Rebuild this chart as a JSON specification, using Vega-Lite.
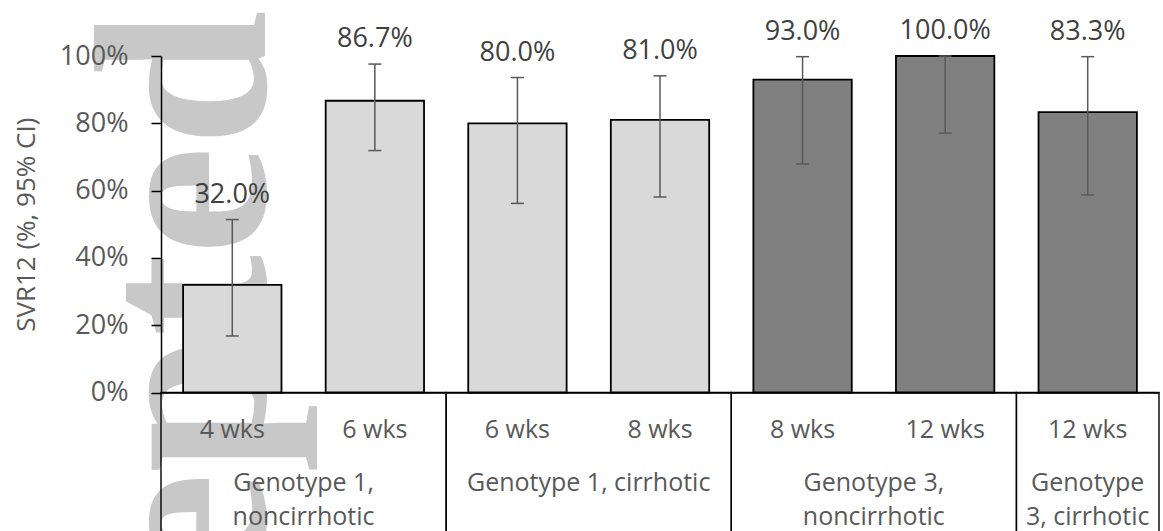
{
  "$schema": "https://vega.github.io/schema/vega-lite/v6.json",
  "width": 998,
  "height": 336.5,
  "autosize": "none",
  "padding": {"left": 161, "top": 56, "right": 4, "bottom": 138.5},
  "background": "white",
  "config": {"view": {"stroke": null}, "font": "Open Sans"},
  "datasets": {
    "bars": [
      {"cat": "4 wks", "genotype": "G1", "value": 0.32, "lo": 0.168, "hi": 0.514},
      {"cat": "6 wks", "genotype": "G1", "value": 0.867, "lo": 0.719, "hi": 0.976},
      {"cat": "6 wks ", "genotype": "G1", "value": 0.80, "lo": 0.562, "hi": 0.936},
      {"cat": "8 wks", "genotype": "G1", "value": 0.81, "lo": 0.581, "hi": 0.941},
      {"cat": "8 wks ", "genotype": "G3", "value": 0.93, "lo": 0.679, "hi": 0.998},
      {"cat": "12 wks", "genotype": "G3", "value": 1.0, "lo": 0.771, "hi": 1.0},
      {"cat": "12 wks ", "genotype": "G3", "value": 0.833, "lo": 0.587, "hi": 0.998}
    ],
    "groups": [
      {"group": "Genotype 1,\nnoncirrhotic", "from": 0, "to": 2},
      {"group": "Genotype 1, cirrhotic", "from": 2, "to": 4},
      {"group": "Genotype 3,\nnoncirrhotic", "from": 4, "to": 6},
      {"group": "Genotype\n3, cirrhotic", "from": 6, "to": 7}
    ],
    "watermark": [{"word": "Accepted"}]
  },
  "resolve": {"scale": {"x": "independent"}, "axis": {"x": "independent"}},
  "layer": [
    {
      "data": {"name": "watermark"},
      "mark": {"type": "text", "font": "Liberation Serif", "fontWeight": "bold", "fontSize": 245, "angle": 270, "align": "right", "baseline": "alphabetic", "color": "#c8c8c8"},
      "encoding": {
        "text": {"field": "word", "type": "nominal"},
        "x": {"datum": 0.729, "type": "quantitative", "scale": {"domain": [0, 7], "nice": false, "zero": false}, "axis": null},
        "y": {"datum": 1.137, "type": "quantitative", "scale": {"domain": [0, 1]}}
      }
    },
    {
      "data": {"name": "groups"},
      "mark": {"type": "rect", "fillOpacity": 0, "stroke": "black", "strokeWidth": 1.4},
      "encoding": {
        "x": {"field": "from", "type": "quantitative", "scale": {"domain": [0, 7], "nice": false, "zero": false}, "axis": null},
        "x2": {"field": "to"},
        "y": {"datum": 0, "type": "quantitative", "scale": {"domain": [0, 1]}},
        "y2": {"datum": -0.5}
      }
    },
    {
      "data": {"name": "groups"},
      "transform": [{"calculate": "(datum.from + datum.to) / 2", "as": "mid"}],
      "mark": {"type": "text", "fontSize": 25, "color": "#595959", "align": "center", "baseline": "alphabetic", "lineBreak": "\n", "lineHeight": 34, "dy": 98.5},
      "encoding": {
        "text": {"field": "group", "type": "nominal"},
        "x": {"field": "mid", "type": "quantitative", "scale": {"domain": [0, 7], "nice": false, "zero": false}, "axis": null},
        "y": {"datum": 0, "type": "quantitative", "scale": {"domain": [0, 1]}}
      }
    },
    {
      "data": {"name": "bars"},
      "encoding": {
        "x": {
          "field": "cat", "type": "nominal", "sort": null,
          "scale": {"type": "band", "paddingInner": 0.31, "paddingOuter": 0.155},
          "axis": {"title": null, "zindex": 1, "ticks": false, "tickSize": 0, "domainColor": "black", "domainWidth": 1.5, "labelFontSize": 25, "labelColor": "#595959", "labelPadding": 25, "labelAngle": 0, "labelExpr": "trim(datum.label)"}
        }
      },
      "layer": [
        {
          "mark": {"type": "bar", "stroke": "black", "strokeWidth": 1.8},
          "encoding": {
            "y": {
              "field": "value", "type": "quantitative", "scale": {"domain": [0, 1]},
              "axis": {"zindex": 1, "values": [0, 0.2, 0.4, 0.6, 0.8, 1], "format": "%", "grid": false, "domainColor": "black", "domainWidth": 1.5, "tickColor": "black", "tickWidth": 1.5, "tickSize": 10, "labelFontSize": 27, "labelColor": "#595959", "labelPadding": 23, "title": "SVR12 (%, 95% CI)", "titleFontSize": 26, "titleFontWeight": "normal", "titleColor": "#595959", "titlePadding": 20}
            },
            "color": {"field": "genotype", "type": "nominal", "scale": {"domain": ["G1", "G3"], "range": ["#d9d9d9", "#808080"]}, "legend": null}
          }
        },
        {
          "mark": {"type": "rule", "color": "#595959", "strokeWidth": 1.5},
          "encoding": {
            "y": {"field": "lo", "type": "quantitative", "scale": {"domain": [0, 1]}},
            "y2": {"field": "hi"}
          }
        },
        {
          "mark": {"type": "tick", "color": "#595959", "thickness": 1.5, "size": 13, "opacity": 1, "orient": "horizontal"},
          "encoding": {
            "y": {"field": "lo", "type": "quantitative", "scale": {"domain": [0, 1]}}
          }
        },
        {
          "mark": {"type": "tick", "color": "#595959", "thickness": 1.5, "size": 13, "opacity": 1, "orient": "horizontal"},
          "encoding": {
            "y": {"field": "hi", "type": "quantitative", "scale": {"domain": [0, 1]}}
          }
        },
        {
          "mark": {"type": "text", "fontSize": 27, "color": "#404040", "dy": -17, "baseline": "alphabetic", "align": "center"},
          "encoding": {
            "y": {"field": "hi", "type": "quantitative", "scale": {"domain": [0, 1]}},
            "text": {"field": "value", "type": "quantitative", "format": ".1%"}
          }
        }
      ]
    }
  ]
}
